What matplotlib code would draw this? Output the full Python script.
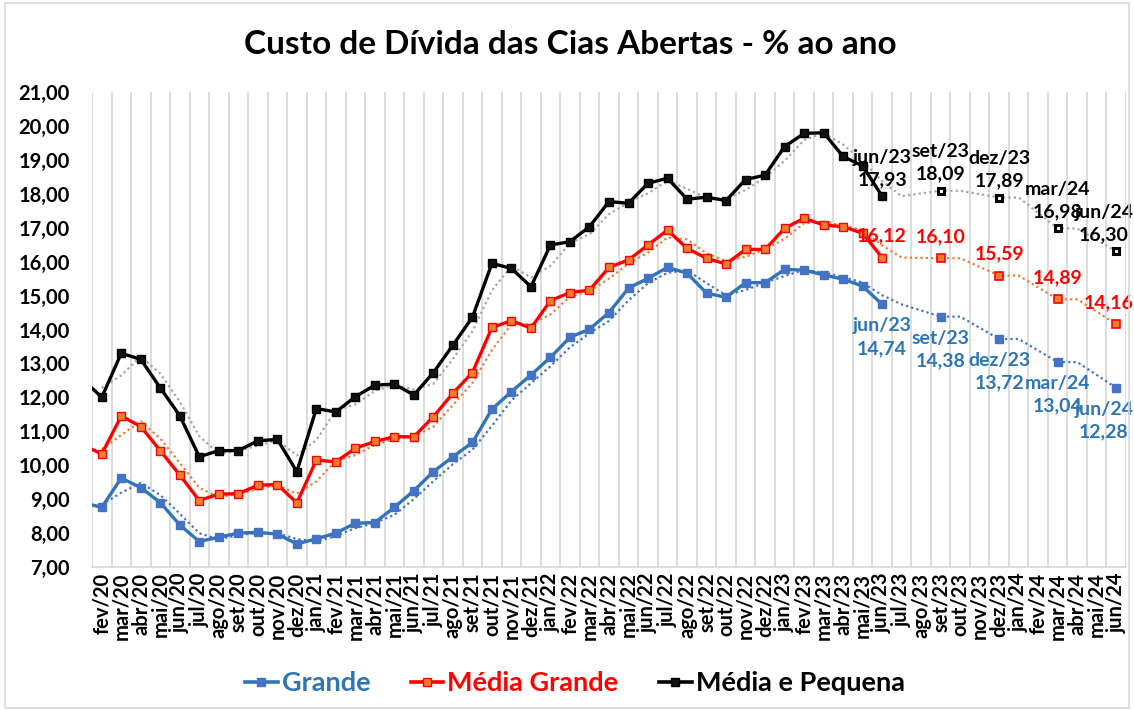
import matplotlib
matplotlib.use("Agg")
import matplotlib.pyplot as plt
from matplotlib.lines import Line2D
from matplotlib.patches import Rectangle
import numpy as np

# ---------------- data ----------------
categories = ["fev/20", "mar/20", "abr/20", "mai/20", "jun/20", "jul/20", "ago/20", "set/20", "out/20", "nov/20", "dez/20",
              "jan/21", "fev/21", "mar/21", "abr/21", "mai/21", "jun/21", "jul/21", "ago/21", "set/21", "out/21", "nov/21", "dez/21",
              "jan/22", "fev/22", "mar/22", "abr/22", "mai/22", "jun/22", "jul/22", "ago/22", "set/22", "out/22", "nov/22", "dez/22",
              "jan/23", "fev/23", "mar/23", "abr/23", "mai/23", "jun/23", "jul/23", "ago/23", "set/23", "out/23", "nov/23", "dez/23",
              "jan/24", "fev/24", "mar/24", "abr/24", "mai/24", "jun/24"]

# monthly history jan/20 .. jun/23 (jan/20 lies just left of the visible axis)
hist_months = ["jan/20"] + categories[:41]

grande = [8.90, 8.76, 9.62, 9.34, 8.90, 8.24, 7.75, 7.88, 8.00, 8.02, 7.97, 7.68,
          7.83, 8.00, 8.29, 8.31, 8.76, 9.25, 9.81, 10.25, 10.67, 11.65, 12.17, 12.66,
          13.18, 13.77, 14.01, 14.50, 15.22, 15.51, 15.83, 15.66, 15.07, 14.95, 15.38, 15.38,
          15.77, 15.75, 15.61, 15.48, 15.28, 14.74]

media_grande = [10.61, 10.33, 11.45, 11.14, 10.43, 9.71, 8.96, 9.15, 9.16, 9.41, 9.43, 8.89,
                10.15, 10.10, 10.50, 10.70, 10.84, 10.84, 11.43, 12.12, 12.73, 14.06, 14.26, 14.04,
                14.85, 15.09, 15.16, 15.83, 16.05, 16.49, 16.93, 16.39, 16.10, 15.93, 16.36, 16.36,
                16.98, 17.28, 17.08, 17.03, 16.84, 16.12]

media_pequena = [12.55, 12.00, 13.30, 13.12, 12.28, 11.46, 10.25, 10.43, 10.43, 10.72, 10.76, 9.81,
                 11.67, 11.57, 12.02, 12.36, 12.39, 12.07, 12.73, 13.54, 14.36, 15.95, 15.80, 15.26,
                 16.49, 16.59, 17.03, 17.77, 17.72, 18.31, 18.46, 17.84, 17.90, 17.80, 18.42, 18.55,
                 19.39, 19.78, 19.80, 19.10, 18.82, 17.93]

proj_months = ["jun/23", "set/23", "dez/23", "mar/24", "jun/24"]
proj_grande = [14.74, 14.38, 13.72, 13.04, 12.28]
proj_media_grande = [16.12, 16.10, 15.59, 14.89, 14.16]
proj_media_pequena = [17.93, 18.09, 17.89, 16.98, 16.30]

series_names = ["Grande", "Média Grande", "Média e Pequena"]

# ---------------- styling ----------------
plt.rcParams["font.family"] = ["Lato", "DejaVu Sans"]
plt.rcParams["font.weight"] = "bold"

BLUE_LINE, BLUE_MK, BLUE_TXT, BLUE_TR = "#2E75B6", "#4472C4", "#2E75B6", "#4472C4"
RED_LINE, RED_MK, RED_TXT, RED_TR = "#FF0000", "#ED7D31", "#FF0000", "#ED7D31"
BLK_LINE, BLK_TXT, BLK_TR = "#000000", "#000000", "#A6A6A6"
GRID = "#D9D9D9"

pos = {m: i for i, m in enumerate(categories)}
pos["jan/20"] = -1
hx = np.array([pos[m] for m in hist_months])
px = np.array([pos[m] for m in proj_months])


def trend(hist, proj):
    """2-period moving average trendline over history + quarterly projections."""
    full = {x: v for x, v in zip(hx, hist)}
    for x in range(int(hx[-1]) + 1, len(categories)):
        j = int(np.argmin(np.abs(px - x)))
        full[x] = proj[j]
    xs = np.arange(0, len(categories))
    ys = np.array([(full[x - 1] + full[x]) / 2 for x in xs])
    return xs, ys


fig = plt.figure(figsize=(11.34, 7.11), dpi=100)
ax = fig.add_axes([92 / 1134, 1 - 567 / 711, (1126 - 92) / 1134, (567 - 92) / 711])

fig.patches.append(Rectangle((0.004, 0.004), 0.992, 0.992, transform=fig.transFigure,
                             fill=False, edgecolor=GRID, linewidth=1.2))

specs = [
    (grande, proj_grande, BLUE_LINE, BLUE_MK, BLUE_MK, BLUE_TR, BLUE_MK, BLUE_MK, 1.0, 5.8),
    (media_grande, proj_media_grande, RED_LINE, RED_MK, RED_LINE, RED_TR, RED_MK, RED_LINE, 1.2, 5.8),
    (media_pequena, proj_media_pequena, BLK_LINE, "#111111", BLK_LINE, BLK_TR, "white", BLK_LINE, 2.2, 4.8),
]

for hist, proj, lc, mfc, mec, tc, pmfc, pmec, pmew, pms in specs:
    tx, ty = trend(hist, proj)
    ax.plot(tx, ty, color=tc, lw=1.6, ls=(0, (1, 1.4)), zorder=2, clip_on=True)
    ax.plot(hx, hist, color=lc, lw=2.4, marker="s", ms=5.5, mfc=mfc, mec=mec, mew=1.0, zorder=4,
            clip_on=True)
    ax.plot(px[1:], proj[1:], ls="none", marker="s", ms=pms, mfc=pmfc, mec=pmec, mew=pmew, zorder=4)

last = len(proj_months) - 1


def place(i):
    # last labels hug the right edge of the chart
    return ("right", 17) if i == last else ("center", 0)


for i, (m, v, x) in enumerate(zip(proj_months, proj_media_pequena, px)):
    ha, dx = place(i)
    ax.annotate(f"{m}\n{v:.2f}".replace(".", ","), (x, v), xytext=(dx, 8), textcoords="offset pixels",
                ha=ha, va="bottom", multialignment="center", fontsize=14, color=BLK_TXT,
                fontweight="bold", linespacing=1.4, zorder=6, annotation_clip=False)
for i, (m, v, x) in enumerate(zip(proj_months, proj_media_grande, px)):
    ha, dx = place(i)
    ax.annotate(f"{v:.2f}".replace(".", ","), (x, v), xytext=(dx, 13), textcoords="offset pixels",
                ha=ha, va="bottom", fontsize=14, color=RED_TXT, fontweight="bold",
                zorder=6, annotation_clip=False)
for i, (m, v, x) in enumerate(zip(proj_months, proj_grande, px)):
    ha, dx = place(i)
    ax.annotate(f"{m}\n{v:.2f}".replace(".", ","), (x, v), xytext=(dx, -13), textcoords="offset pixels",
                ha=ha, va="top", multialignment="center", fontsize=14, color=BLUE_TXT,
                fontweight="bold", linespacing=1.4, zorder=6, annotation_clip=False)

# axes
ax.set_xlim(-0.5, len(categories) - 0.5)
ax.set_ylim(7, 21)
ax.set_yticks(np.arange(7, 22, 1))
ax.set_yticklabels([f"{v:.2f}".replace(".", ",") for v in np.arange(7, 22, 1)], fontsize=14.5,
                   fontweight="bold")
ax.set_xticks(np.arange(len(categories)))
ax.set_xticklabels(categories, rotation=90, fontsize=14.5, fontweight="bold", va="top", ha="center")
ax.set_xticks(np.arange(-0.5, len(categories), 1), minor=True)
ax.tick_params(axis="both", which="both", length=0)
ax.tick_params(axis="y", pad=16)
ax.tick_params(axis="x", pad=4)
ax.grid(which="minor", axis="x", color=GRID, lw=1.3)
ax.grid(which="major", visible=False)
for s in ["top", "right", "left"]:
    ax.spines[s].set_visible(False)
ax.spines["bottom"].set_color(GRID)
ax.spines["bottom"].set_linewidth(1.3)

fig.text(0.503, 1 - 45 / 711, "Custo de Dívida das Cias Abertas - % ao ano", ha="center", va="center",
         fontsize=24, fontweight="bold")

handles = [
    Line2D([], [], color=BLUE_LINE, lw=2.6, marker="s", ms=5.5, mfc=BLUE_MK, mec=BLUE_MK),
    Line2D([], [], color=RED_LINE, lw=2.6, marker="s", ms=5.5, mfc=RED_MK, mec=RED_LINE),
    Line2D([], [], color=BLK_LINE, lw=2.6, marker="s", ms=5.5, mfc="#111111", mec=BLK_LINE),
]
leg = fig.legend(handles, series_names, loc="center", bbox_to_anchor=(0.507, 1 - 683 / 711), ncol=3,
                 frameon=False, handlelength=1.2, handletextpad=0.15, columnspacing=1.5,
                 prop={"weight": "bold", "size": 19.5})
for t, c in zip(leg.get_texts(), [BLUE_TXT, RED_TXT, BLK_TXT]):
    t.set_color(c)

fig.savefig("out.png", dpi=100)
